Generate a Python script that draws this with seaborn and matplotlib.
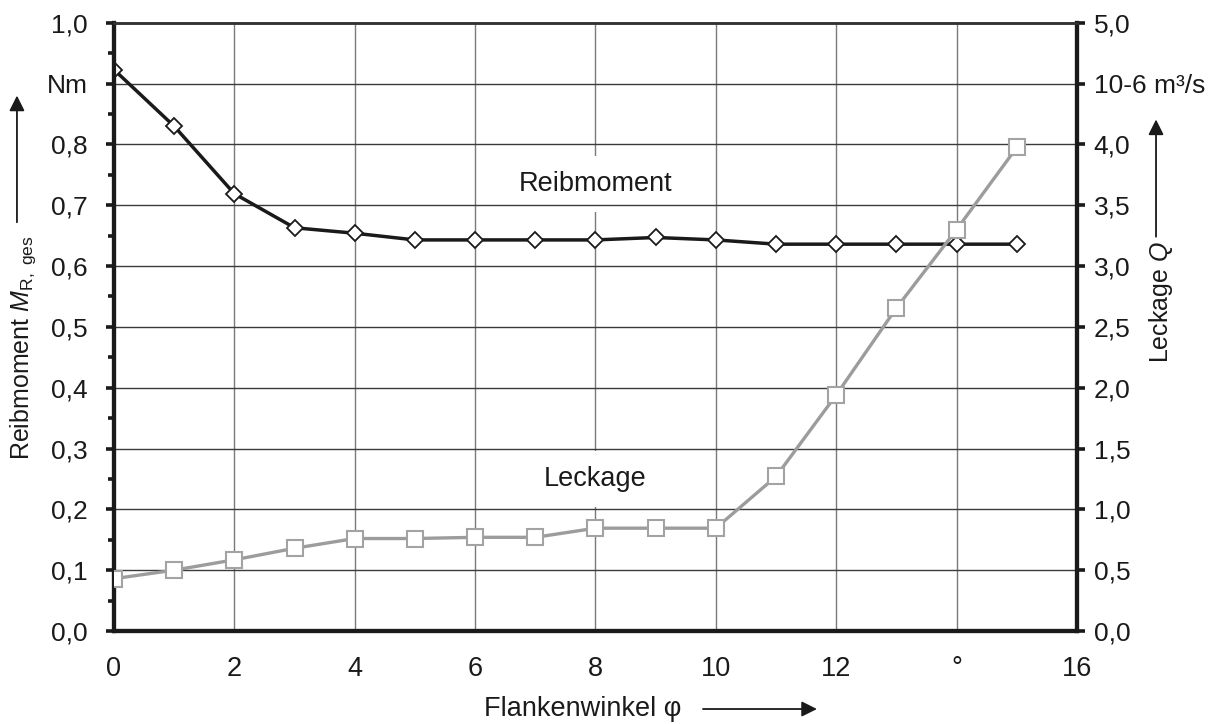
import matplotlib
matplotlib.use("Agg")
import matplotlib.pyplot as plt
from matplotlib.patches import FancyArrowPatch
import seaborn as sns
import pandas as pd
from matplotlib.ticker import FixedLocator, FixedFormatter, MultipleLocator

# ---- data ----
winkel = [0, 1, 2, 3, 4, 5, 6, 7, 8, 9, 10, 11, 12, 13, 14, 15]
reibmoment = [0.923, 0.830, 0.719, 0.663, 0.654, 0.643, 0.643, 0.643, 0.643,
              0.647, 0.643, 0.636, 0.636, 0.636, 0.636, 0.636]
leckage = [0.43, 0.50, 0.585, 0.68, 0.76, 0.76, 0.77, 0.77, 0.845, 0.845,
           0.845, 1.27, 1.94, 2.655, 3.30, 3.975]

x_ticks = [0, 2, 4, 6, 8, 10, 12, 14, 16]
x_ticklabels = ['0', '2', '4', '6', '8', '10', '12', '°', '16']
left_ticks = [0.0, 0.1, 0.2, 0.3, 0.4, 0.5, 0.6, 0.7, 0.8, 0.9, 1.0]
left_ticklabels = ['0,0', '0,1', '0,2', '0,3', '0,4', '0,5', '0,6', '0,7', '0,8', 'Nm', '1,0']
right_ticks = [0.0, 0.5, 1.0, 1.5, 2.0, 2.5, 3.0, 3.5, 4.0, 4.5, 5.0]
right_ticklabels = ['0,0', '0,5', '1,0', '1,5', '2,0', '2,5', '3,0', '3,5', '4,0', '10-6 m³/s', '5,0']

df = pd.DataFrame({'winkel': winkel, 'reibmoment': reibmoment, 'leckage': leckage})

sns.set_theme(style="white")
plt.rcParams['font.family'] = ['Liberation Sans', 'DejaVu Sans']
plt.rcParams['mathtext.fontset'] = 'custom'
plt.rcParams['mathtext.rm'] = 'Liberation Sans'
plt.rcParams['mathtext.it'] = 'Liberation Sans:italic'

FS = 19.5
FS_TICK = 19
FS_YLAB = 18
INK = '#1a1a1a'

fig = plt.figure(figsize=(12.11, 7.24), dpi=100)
ax = fig.add_axes([0.0941, 0.1285, 0.7952, 0.840])

sns.lineplot(data=df, x='winkel', y='reibmoment', ax=ax, color=INK, lw=2.5,
             marker='D', markersize=7.8, markerfacecolor='white',
             markeredgecolor=INK, markeredgewidth=1.3, zorder=3)
ax2 = ax.twinx()
sns.lineplot(data=df, x='winkel', y='leckage', ax=ax2, color='#9c9c9c', lw=2.4,
             marker='s', markersize=11.2, markerfacecolor='white',
             markeredgecolor='#a3a3a3', markeredgewidth=1.5, zorder=3)

ax.set_xlim(0, 16)
ax.set_ylim(0, 1.0)
ax2.set_ylim(0, 5.0)

ax.xaxis.set_major_locator(FixedLocator(x_ticks))
ax.xaxis.set_major_formatter(FixedFormatter(x_ticklabels))
ax.xaxis.set_minor_locator(MultipleLocator(0.4))
ax.yaxis.set_major_locator(FixedLocator(left_ticks))
ax.yaxis.set_major_formatter(FixedFormatter(left_ticklabels))
ax.yaxis.set_minor_locator(MultipleLocator(0.05))
ax2.yaxis.set_major_locator(FixedLocator(right_ticks))
ax2.yaxis.set_major_formatter(FixedFormatter(right_ticklabels))

# vertical grid below labels, horizontal grid above label boxes
ax.grid(True, axis='x', which='major', color='#7a7a7a', lw=1.0)
ax.set_axisbelow(True)
for yv in left_ticks[1:-1]:
    ax.axhline(yv, color='#3a3a3a', lw=1.0, zorder=2.8)

for a in (ax, ax2):
    for s in a.spines.values():
        s.set_color(INK)
    a.spines['top'].set_linewidth(1.8)
    a.spines['top'].set_color('#333333')
    a.spines['left'].set_linewidth(3.0)
    a.spines['bottom'].set_linewidth(3.0)
    a.spines['right'].set_linewidth(3.0)
    a.set_xlabel('')
    a.set_ylabel('')

ax.tick_params(axis='both', which='major', direction='out', length=6, width=2.6,
               color=INK, labelsize=FS_TICK, labelcolor=INK)
ax.tick_params(axis='both', which='minor', direction='out', length=4, width=2.6,
               color=INK)
ax.tick_params(axis='y', which='major', pad=13)
ax.tick_params(axis='x', which='major', pad=12, labelsize=FS)
ax2.tick_params(axis='y', which='major', direction='out', length=6, width=2.6,
                color=INK, labelsize=FS_TICK, labelcolor=INK, pad=6)

# in-chart labels
bbox = dict(facecolor='white', edgecolor='none', pad=11)
ax.text(8, 0.735, 'Reibmoment', ha='center', va='center', fontsize=FS,
        color=INK, bbox=bbox, zorder=2.5)
ax.text(8, 0.250, 'Leckage', ha='center', va='center', fontsize=FS,
        color=INK, bbox=bbox, zorder=2.5)

# axis labels with arrows
fig.text(0.019, 0.52, r'Reibmoment $M$$_{\rm R,\ ges}$', rotation=90,
         ha='center', va='center', fontsize=FS_YLAB, color=INK)
fig.text(0.9587, 0.583, r'Leckage $Q$', rotation=90,
         ha='center', va='center', fontsize=FS_YLAB, color=INK)
fig.text(0.4814, 0.021, 'Flankenwinkel φ', ha='center', va='center',
         fontsize=FS, color=INK)

arrow = dict(arrowstyle='-|>', color=INK, lw=1.3, mutation_scale=23,
             shrinkA=0, shrinkB=0)
fig.add_artist(FancyArrowPatch((0.0140, 0.693), (0.0140, 0.868),
               transform=fig.transFigure, **arrow))
fig.add_artist(FancyArrowPatch((0.9546, 0.673), (0.9546, 0.835),
               transform=fig.transFigure, **arrow))
fig.add_artist(FancyArrowPatch((0.5805, 0.0207), (0.6746, 0.0207),
               transform=fig.transFigure, **arrow))

fig.savefig('out.png', dpi=100)
